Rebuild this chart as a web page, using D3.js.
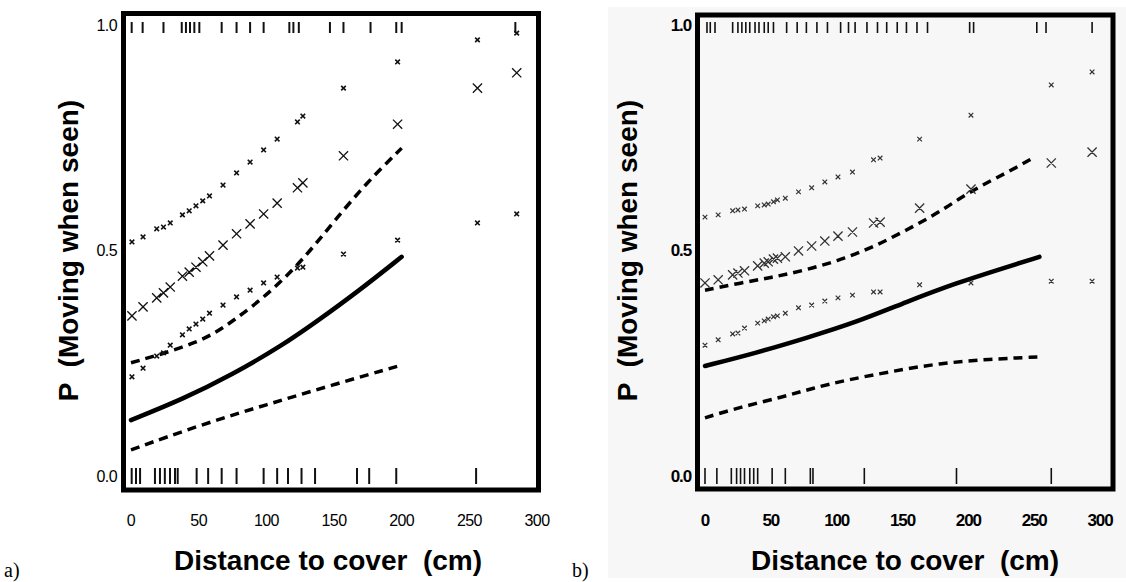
<!DOCTYPE html>
<html>
<head>
<meta charset="utf-8">
<script src="https://cdnjs.cloudflare.com/ajax/libs/d3/7.8.5/d3.min.js"></script>
<style>
	body { margin: 0; background: #fff; }
	svg { display: block; font-family: "Liberation Sans", Arial, sans-serif; }
</style>
</head>
<body>
<div id="chart"></div>
<script>
// axis stuff, shared by both panels
var xTicks = [0, 50, 100, 150, 200, 250, 300];
var yTicks = [0, 0.5, 1];
var yTickLabels = ["0.0", "0.5", "1.0"];

// panel a - binned estimates (upper, mid, lower) per distance
var aDist = [0.7, 8.9, 19, 24, 29, 38, 43, 48, 53, 58, 68, 78, 88, 98, 108, 123, 127, 157, 197, 256, 285];
var aUpper = [0.519, 0.530, 0.548, 0.552, 0.561, 0.579, 0.588, 0.599, 0.610, 0.621, 0.645, 0.672, 0.696, 0.723, 0.747, 0.785, 0.798, 0.860, 0.918, 0.967, 0.982];
var aMid = [0.355, 0.375, 0.395, 0.406, 0.419, 0.443, 0.452, 0.463, 0.475, 0.488, 0.512, 0.537, 0.559, 0.581, 0.605, 0.639, 0.650, 0.710, 0.780, 0.860, 0.894];
var aLower = [0.220, 0.239, 0.266, 0.273, 0.290, 0.313, 0.326, 0.337, 0.348, 0.361, 0.379, 0.397, 0.412, 0.428, 0.441, 0.461, 0.463, 0.492, 0.523, 0.561, 0.581];

// panel a - fitted curve and its band
var aFitDist = [0, 38, 75, 112, 137, 169, 200];
var aFit = [0.124, 0.170, 0.225, 0.290, 0.342, 0.412, 0.486];
var aLoDist = [0, 51, 100, 149, 200];
var aLo = [0.058, 0.113, 0.158, 0.202, 0.246];
var aHiDist = [0, 51, 75, 105, 130, 149, 174, 200];
var aHi = [0.251, 0.295, 0.342, 0.412, 0.490, 0.561, 0.650, 0.727];

// panel a - rugs (moved = top, stayed = bottom)
var aRugTop = [0.5, 8.6, 24, 37.5, 40.6, 43.6, 46.8, 50.5, 67, 78, 88, 98, 117, 120, 124, 147, 157, 177, 196, 200, 284];
var aRugBottom = [0.5, 3.7, 6.7, 17.7, 21.4, 25, 28.8, 32.5, 34.5, 48.5, 57, 67, 78, 98, 108, 116, 126, 136, 167, 176, 196, 255];

// panel b
var bDist = [0, 10, 21, 25, 30, 40, 45, 48, 52, 55, 61, 71, 81, 91, 101, 112, 128, 133, 163, 202, 263, 294];
var bUpper = [0.574, 0.579, 0.588, 0.590, 0.592, 0.599, 0.601, 0.603, 0.608, 0.612, 0.616, 0.630, 0.639, 0.652, 0.663, 0.674, 0.701, 0.705, 0.747, 0.800, 0.867, 0.896];
var bMid = [0.428, 0.435, 0.446, 0.450, 0.455, 0.466, 0.472, 0.475, 0.481, 0.483, 0.486, 0.499, 0.510, 0.521, 0.532, 0.541, 0.561, 0.563, 0.594, 0.636, 0.694, 0.718];
var bLower = [0.290, 0.302, 0.315, 0.317, 0.328, 0.339, 0.344, 0.348, 0.353, 0.355, 0.361, 0.373, 0.379, 0.388, 0.395, 0.401, 0.408, 0.408, 0.424, 0.428, 0.432, 0.432];

var bFitDist = [0, 39, 77, 115, 153, 191, 229, 254];
var bFit = [0.244, 0.273, 0.306, 0.341, 0.386, 0.428, 0.463, 0.486];
var bLoDist = [0, 27, 59, 82, 108, 140, 178, 216, 253];
var bLo = [0.129, 0.153, 0.175, 0.195, 0.213, 0.231, 0.250, 0.259, 0.264];
var bHiDist = [0, 27, 52, 77, 103, 128, 153, 178, 203, 229, 249];
var bHi = [0.412, 0.428, 0.441, 0.457, 0.479, 0.508, 0.545, 0.585, 0.634, 0.672, 0.705];

var bRugTop = [1.5, 4, 7.6, 21, 25, 28, 31, 34, 38, 41, 45, 48, 52, 62, 70, 77, 85, 93, 103, 109, 114, 123, 131, 138, 146, 153, 161, 169, 201, 204, 252, 259, 294];
var bRugBottom = [0, 9, 20, 24, 27, 30, 34, 37, 40, 51, 61, 80, 82, 121, 191, 263];

var W = 1126, H = 582;

var svg = d3.select("#chart").append("svg")
	.attr("width", W)
	.attr("height", H);

// panel b sits on a slightly grey scan
svg.append("rect")
	.attr("x", 608)
	.attr("y", 7)
	.attr("width", W - 608)
	.attr("height", 571)
	.attr("fill", "#f7f7f7");

function zip(xs, ys) {
	return xs.map(function (d, i) { return [d, ys[i]]; });
}

function drawPanel(p) {
	var g = svg.append("g").attr("id", p.id);

	var x = d3.scaleLinear().domain([0, 300]).range([p.left, p.right]);
	var y = d3.scaleLinear().domain([0, 1]).range([p.bottom, p.top]);

	// tick labels (no tick marks on this figure)
	g.selectAll("text.xt")
		.data(xTicks)
		.enter().append("text")
		.attr("class", "xt")
		.attr("x", function (d) { return x(d); })
		.attr("y", p.xLabelY)
		.attr("text-anchor", "middle")
		.attr("dominant-baseline", "central")
		.attr("font-size", p.tickSize)
		.attr("font-weight", p.tickWeight)
		.attr("letter-spacing", p.tickSpacing)
		.text(function (d) { return d; });

	g.selectAll("text.yt")
		.data(yTicks)
		.enter().append("text")
		.attr("class", "yt")
		.attr("x", p.yLabelX)
		.attr("y", function (d) { return y(d); })
		.attr("text-anchor", "end")
		.attr("dominant-baseline", "central")
		.attr("font-size", p.tickSize)
		.attr("font-weight", p.tickWeight)
		.attr("letter-spacing", p.tickSpacing)
		.text(function (d, i) { return yTickLabels[i]; });

	// titles
	g.append("text")
		.attr("x", p.xTitleX)
		.attr("y", p.xTitleY)
		.attr("text-anchor", "middle")
		.attr("dominant-baseline", "central")
		.attr("font-size", p.titleSize)
		.attr("font-weight", "bold")
		.style("white-space", "pre")
		.text("Distance to cover  (cm)");

	g.append("text")
		.attr("transform", "translate(" + p.yTitleX + "," + ((p.top + p.bottom) / 2) + ") rotate(-90)")
		.attr("text-anchor", "middle")
		.attr("dominant-baseline", "central")
		.attr("font-size", p.titleSize)
		.attr("font-weight", "bold")
		.style("white-space", "pre")
		.text("P  (Moving when seen)");

	g.append("text")
		.attr("x", p.tagX)
		.attr("y", 577)
		.attr("font-family", "'Liberation Serif', 'Times New Roman', serif")
		.attr("font-size", 20)
		.text(p.tag);

	// rugs
	g.selectAll("line.rugtop")
		.data(p.rugTop)
		.enter().append("line")
		.attr("class", "rugtop")
		.attr("x1", function (d) { return x(d); })
		.attr("x2", function (d) { return x(d); })
		.attr("y1", y(1) - 3)
		.attr("y2", y(1) + 8)
		.attr("stroke", "#111")
		.attr("stroke-width", p.rugWidth);

	g.selectAll("line.rugbot")
		.data(p.rugBottom)
		.enter().append("line")
		.attr("class", "rugbot")
		.attr("x1", function (d) { return x(d); })
		.attr("x2", function (d) { return x(d); })
		.attr("y1", y(0) - 8)
		.attr("y2", y(0) + 8)
		.attr("stroke", "#111")
		.attr("stroke-width", p.rugWidth);

	// fitted line + dashed band
	var line = d3.line()
		.x(function (d) { return x(d[0]); })
		.y(function (d) { return y(d[1]); })
		.curve(d3.curveBasis);

	g.append("path")
		.datum(zip(p.fitDist, p.fit))
		.attr("d", line)
		.attr("fill", "none")
		.attr("stroke", "#000")
		.attr("stroke-width", 4.5)
		.attr("stroke-linecap", "round");

	[[p.loDist, p.lo], [p.hiDist, p.hi]].forEach(function (band) {
		g.append("path")
			.datum(zip(band[0], band[1]))
			.attr("d", line)
			.attr("fill", "none")
			.attr("stroke", "#000")
			.attr("stroke-width", 3.5)
			.attr("stroke-dasharray", "9,6");
	});

	// crosses - big for the estimate, small for the limits
	function crosses(vals, s, sw) {
		g.append("path")
			.attr("d", p.dist.map(function (d, i) {
				var cx = x(d), cy = y(vals[i]);
				return "M" + (cx - s) + "," + (cy - s) + "L" + (cx + s) + "," + (cy + s) +
					"M" + (cx - s) + "," + (cy + s) + "L" + (cx + s) + "," + (cy - s);
			}).join(""))
			.attr("fill", "none")
			.attr("stroke", p.markColor)
			.attr("stroke-width", sw);
	}
	crosses(p.upper, 2.3, p.smallWidth);
	crosses(p.mid, 4.6, 1.3);
	crosses(p.lower, 2.3, p.smallWidth);

	// heavy frame round the plot
	g.append("rect")
		.attr("x", p.frame[0])
		.attr("y", p.frame[1])
		.attr("width", p.frame[2] - p.frame[0])
		.attr("height", p.frame[3] - p.frame[1])
		.attr("fill", "none")
		.attr("stroke", "#000")
		.attr("stroke-width", 5);
}

drawPanel({
	id: "panel_a", tag: "a)", tagX: 4,
	left: 131, right: 537, top: 25, bottom: 476,
	frame: [123.5, 13.5, 538.5, 490],
	yLabelX: 117, yTitleX: 68, xLabelY: 520, xTitleX: 328, xTitleY: 560,
	tickSize: 16, tickWeight: "normal", tickSpacing: -0.6, titleSize: 28,
	rugWidth: 2, markColor: "#111", smallWidth: 1.6,
	dist: aDist, upper: aUpper, mid: aMid, lower: aLower,
	fitDist: aFitDist, fit: aFit, loDist: aLoDist, lo: aLo, hiDist: aHiDist, hi: aHi,
	rugTop: aRugTop, rugBottom: aRugBottom
});

drawPanel({
	id: "panel_b", tag: "b)", tagX: 572,
	left: 705, right: 1100, top: 25, bottom: 476,
	frame: [697.5, 15, 1113, 489],
	yLabelX: 691, yTitleX: 627, xLabelY: 520, xTitleX: 905, xTitleY: 560,
	tickSize: 17, tickWeight: "bold", tickSpacing: -1.1, titleSize: 28,
	rugWidth: 1.6, markColor: "#333", smallWidth: 1.2,
	dist: bDist, upper: bUpper, mid: bMid, lower: bLower,
	fitDist: bFitDist, fit: bFit, loDist: bLoDist, lo: bLo, hiDist: bHiDist, hi: bHi,
	rugTop: bRugTop, rugBottom: bRugBottom
});
</script>
</body>
</html>
